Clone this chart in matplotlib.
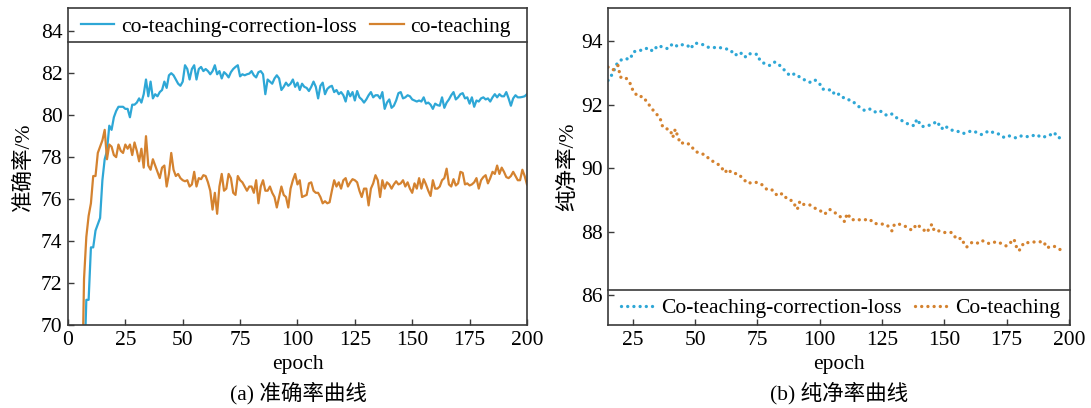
import numpy as np
import matplotlib
matplotlib.use("Agg")
import matplotlib.pyplot as plt

plt.rcParams['font.family'] = ['Liberation Serif', 'Noto Sans CJK SC']
plt.rcParams['font.size'] = 15.5
plt.rcParams['axes.unicode_minus'] = False

# ---- (a) accuracy curves, epochs 6..200 ----
acc_ctcl = [
    62.0, 67.5, 71.2, 71.2, 73.7, 73.7, 74.5, 74.8, 75.1, 76.9,   # 6-15
    77.9, 78.3, 79.5, 79.3, 79.9, 80.2, 80.4, 80.4, 80.4, 80.3,   # 16-25
    80.3, 79.9, 80.5, 80.5, 80.6, 80.8, 80.6, 81.0, 81.7, 80.9,   # 26-35
    81.6, 80.8, 81.0, 80.9, 81.1, 81.2, 81.6, 81.3, 81.9, 82.0,   # 36-45
    81.9, 81.7, 81.5, 81.4, 81.6,                                 # 46-50
    82.38, 82.2, 81.7, 82.2, 82.38, 81.7, 82.2, 82.3, 82.1, 82.2,  # 51-60
    82.1, 81.95, 82.1, 82.38, 81.95, 82.1, 81.75, 82.05, 81.95, 81.8,  # 61-70
    82.05, 82.2, 82.3, 82.38, 81.85, 81.95, 81.9, 81.95, 81.98, 82.1,  # 71-80
    81.9, 81.8, 82.05, 82.1, 81.95, 81.0, 81.7, 81.6, 81.5, 81.75,    # 81-90
    81.9, 81.75, 81.2, 81.35, 81.55, 81.4, 81.5, 81.7, 81.35, 81.55,  # 91-100
    81.2, 81.5, 81.35, 81.3, 81.15, 81.35, 81.6, 81.35, 80.8, 81.4,   # 101-110
    81.55, 81.0, 81.25, 81.35, 81.4, 81.1, 81.2, 81.0, 81.1, 80.95,   # 111-120
    80.65, 81.15, 80.9, 81.1, 80.7, 81.15, 80.85, 80.75, 80.6, 80.75, # 121-130
    80.95, 81.1, 80.85, 80.95, 80.95, 80.8, 81.1, 80.3, 80.6, 80.75,  # 131-140
    80.35, 80.45, 80.7, 81.05, 81.1, 80.8, 80.85, 80.95, 80.9, 80.75, # 141-150
    80.7, 80.65, 80.7, 80.65, 80.85, 80.55, 80.6, 80.5, 80.3, 80.55,  # 151-160
    80.48, 80.45, 80.85, 80.35, 80.6, 80.75, 80.95, 81.1, 80.75, 80.85,  # 161-170
    81.0, 81.05, 80.8, 80.85, 80.55, 80.85, 80.4, 80.7, 80.65, 80.8,  # 171-180
    80.85, 80.75, 80.8, 80.65, 80.85, 81.0, 80.85, 81.0, 80.9, 80.9,  # 181-190
    81.1, 80.8, 80.45, 80.8, 80.95, 80.85, 80.85, 80.87, 80.9, 81.0,  # 191-200
]
acc_ct = [
    66.0, 72.2, 74.2, 75.2, 75.8, 77.1, 77.1, 78.2, 78.5, 78.8,   # 6-15
    79.3, 77.9, 78.6, 78.5, 78.1, 78.0, 78.6, 78.3, 78.2, 78.6,   # 16-25
    78.4, 78.6, 78.1, 78.7, 78.3, 77.8, 78.4, 77.5, 79.0, 77.6,   # 26-35
    77.4, 77.9, 77.6, 77.3, 77.0, 77.5, 77.6, 76.6, 77.2, 78.2,   # 36-45
    77.4, 77.1, 77.2, 77.0, 76.9,                                 # 46-50
    76.85, 76.9, 76.6, 76.7, 77.3, 76.6, 77.0, 76.95, 77.14, 77.1,  # 51-60
    76.8, 76.4, 75.5, 76.3, 75.3, 76.6, 77.2, 76.4, 76.5, 77.2,     # 61-70
    77.0, 76.3, 76.2, 77.1, 76.9, 76.8, 76.6, 76.4, 76.6, 76.6,     # 71-80
    76.3, 76.9, 75.8, 76.6, 76.9, 76.4, 76.4, 76.6, 76.3, 76.1,     # 81-90
    75.6, 76.1, 76.6, 76.2, 76.1, 75.6, 76.5, 76.9, 77.2, 76.7,     # 91-100
    76.9, 76.1, 76.15, 76.2, 76.75, 76.8, 76.4, 76.3, 76.3, 76.1,   # 101-110
    75.8, 75.9, 75.8, 75.85, 76.4, 76.9, 76.6, 76.8, 76.5, 76.9,    # 111-120
    77.0, 76.6, 76.8, 76.95, 76.9, 76.8, 76.4, 76.1, 76.5, 76.5,    # 121-130
    75.7, 76.5, 76.75, 77.14, 76.9, 76.1, 76.9, 76.5, 76.8, 76.7,   # 131-140
    76.5, 76.7, 76.85, 76.7, 76.75, 76.9, 76.6, 76.8, 76.5, 76.3,   # 141-150
    76.75, 76.5, 77.0, 76.5, 76.95, 76.7, 76.4, 76.15, 76.9, 76.5,  # 151-160
    76.5, 76.6, 76.9, 77.0, 77.45, 76.7, 76.6, 76.95, 76.65, 76.75, # 161-170
    77.3, 77.25, 76.7, 76.75, 76.65, 76.7, 76.8, 77.0, 76.5, 76.9,  # 171-180
    77.05, 77.14, 76.75, 77.0, 77.3, 77.2, 77.6, 77.2, 77.5, 77.3,  # 181-190
    77.05, 77.0, 77.1, 77.3, 77.1, 76.9, 76.9, 77.4, 77.1, 76.7,    # 191-200
]
acc_epochs_ctcl = np.arange(6, 6 + len(acc_ctcl))
acc_epochs_ct = np.arange(6, 6 + len(acc_ct))

# ---- (b) purity curves ----
pur_epochs_ctcl = [15, 17, 18, 19, 21, 24, 25, 27, 29, 31, 33, 35, 37, 39, 41, 43, 45, 47,
                   48, 50, 53, 55, 57, 59, 62, 64, 66, 68, 70, 71, 73, 75, 76, 78, 80, 82,
                   84, 86, 88, 90, 93, 96, 98, 100, 101, 103, 105, 106, 108, 110, 113, 115,
                   118, 120, 122, 124, 127, 129, 132, 133, 136, 138, 139, 141, 143, 145, 147,
                   149, 150, 153, 155, 157, 158, 161, 163, 165, 168, 171, 172, 174, 176, 179,
                   181, 184, 187, 189, 192, 194, 196, 198]
pur_ctcl = [92.77, 93.0, 93.21, 93.35, 93.45, 93.45, 93.66, 93.72, 93.72, 93.80, 93.69,
            93.87, 93.82, 93.77, 93.93, 93.84, 93.9, 93.87, 93.77, 93.95, 93.9, 93.82, 93.8,
            93.82, 93.77, 93.74, 93.56, 93.66, 93.5, 93.61, 93.61, 93.59, 93.4, 93.29, 93.24,
            93.35, 93.24, 93.08, 92.92, 92.98, 92.82, 92.71, 92.79, 92.66, 92.5, 92.47, 92.47,
            92.31, 92.34, 92.19, 92.13, 91.98, 91.82, 91.87, 91.77, 91.82, 91.66, 91.71, 91.52,
            91.5, 91.37, 91.34, 91.55, 91.31, 91.34, 91.37, 91.48, 91.24, 91.34, 91.2, 91.18,
            91.1, 91.1, 91.18, 91.13, 91.06, 91.18, 91.08, 91.08, 90.97, 91.02, 90.95, 91.02,
            90.99, 91.06, 90.97, 91.02, 91.13, 90.95, 91.06]

pur_epochs_ct = [15, 17, 19, 20, 22, 24, 25, 27, 29, 31, 33, 35, 36, 37, 40, 41, 42, 44, 46,
                 48, 50, 52, 54, 56, 58, 60, 62, 63, 64, 65, 67, 69, 71, 73, 75, 77, 79, 81,
                 83, 85, 87, 89, 91, 92, 93, 96, 98, 100, 102, 104, 106, 108, 110, 111, 113,
                 114, 117, 120, 122, 124, 127, 129, 130, 132, 134, 137, 139, 141, 143, 145,
                 146, 148, 150, 153, 155, 157, 158, 159, 161, 163, 165, 168, 171, 173, 175,
                 177, 178, 179, 180, 182, 184, 186, 190, 191, 194, 197]
pur_ct = [93.19, 93.10, 93.24, 92.87, 92.87, 92.66, 92.45, 92.26, 92.26, 92.05, 91.84,
          91.66, 91.55, 91.29, 91.2, 90.97, 91.23, 90.78, 90.81, 90.74, 90.53, 90.47, 90.42,
          90.26, 90.18, 90.08, 89.86, 89.97, 89.9, 89.83, 89.83, 89.69, 89.52, 89.55, 89.55,
          89.47, 89.31, 89.31, 89.13, 89.2, 89.02, 88.97, 88.7, 88.95, 88.86, 88.84, 88.74,
          88.67, 88.55, 88.7, 88.6, 88.49, 88.31, 88.57, 88.36, 88.39, 88.36, 88.39, 88.25,
          88.25, 88.21, 88.02, 88.23, 88.23, 88.18, 88.04, 88.23, 88.1, 87.97, 88.23, 88.02,
          88.02, 87.97, 87.97, 87.76, 87.79, 87.6, 87.51, 87.65, 87.62, 87.72, 87.62, 87.68,
          87.62, 87.54, 87.68, 87.76, 87.51, 87.39, 87.65, 87.65, 87.67, 87.68, 87.49, 87.54,
          87.41]

blue = '#2ea7d6'
orange = '#d4822f'
spine_c = '#3a3a3a'
dots = (0, (0.01, 1.85))

fig = plt.figure(figsize=(10.91, 4.08), dpi=100)
ax1 = fig.add_axes([0.0623, 0.2034, 0.4207, 0.7766])
ax2 = fig.add_axes([0.5573, 0.2034, 0.4235, 0.7766])

leg_kw = dict(ncol=2, frameon=False, columnspacing=0.65, handlelength=1.55,
              handletextpad=0.3)

# (a)
ax1.plot(acc_epochs_ctcl, acc_ctcl, color=blue, lw=1.6, label='co-teaching-correction-loss')
ax1.plot(acc_epochs_ct, acc_ct, color=orange, lw=1.6, label='co-teaching')
ax1.set_xlim(0, 200)
ax1.set_ylim(70, 85.1)
ax1.set_xticks(np.arange(0, 201, 25))
ax1.set_yticks(np.arange(70, 85, 2))
ax1.set_xlabel('epoch', labelpad=4)
ax1.set_ylabel('准确率/%', labelpad=5)
ax1.legend(loc='upper left', bbox_to_anchor=(0.0, 1.013), borderaxespad=0.2, **leg_kw)
ax1.plot([0, 1], [0.893, 0.893], transform=ax1.transAxes, color=spine_c, lw=1.2,
         clip_on=False)

# (b)
ax2.plot(pur_epochs_ctcl, pur_ctcl, color=blue, lw=2.4, linestyle=dots,
         dash_capstyle='round', label='Co-teaching-correction-loss')
ax2.plot(pur_epochs_ct, pur_ct, color=orange, lw=2.4, linestyle=dots,
         dash_capstyle='round', label='Co-teaching')
ax2.set_xlim(15, 200.5)
ax2.set_ylim(85.05, 95.05)
ax2.set_xticks(np.arange(25, 201, 25))
ax2.set_yticks(np.arange(86, 95, 2))
ax2.set_xlabel('epoch', labelpad=4)
ax2.set_ylabel('纯净率/%', labelpad=2)
ax2.legend(loc='lower left', bbox_to_anchor=(0.0, -0.02), borderaxespad=0.2, **leg_kw)
ax2.plot([0, 1], [0.110, 0.110], transform=ax2.transAxes, color=spine_c, lw=1.2,
         clip_on=False)

for ax in (ax1, ax2):
    for s in ax.spines.values():
        s.set_color(spine_c)
        s.set_linewidth(1.2)
    ax.tick_params(direction='in', length=4, width=1, color=spine_c,
                   top=False, right=False, labelsize=15.5, pad=4)

fig.text(0.274, 0.037, '(a) 准确率曲线', ha='center', va='center', fontsize=15.5)
fig.text(0.769, 0.037, '(b) 纯净率曲线', ha='center', va='center', fontsize=15.5)

fig.savefig('out.png', dpi=100)
